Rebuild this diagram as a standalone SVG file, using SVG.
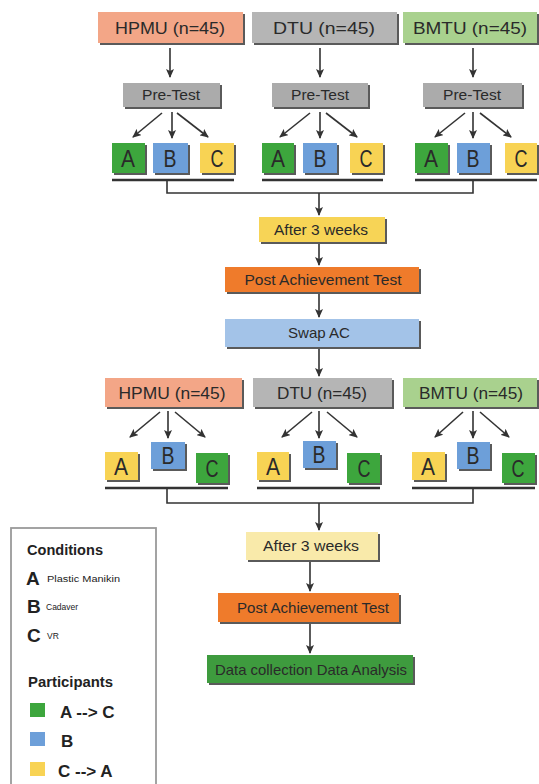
<svg xmlns="http://www.w3.org/2000/svg" width="539" height="784" viewBox="0 0 539 784">
<defs>
<marker id="ah" markerUnits="userSpaceOnUse" markerWidth="9" markerHeight="8" refX="8" refY="4" orient="auto">
<path d="M0,0 L9,4 L0,8 L2,4 z" fill="#333"/>
</marker>
</defs>
<style>
.sh{fill:#5a5a5a;}
.t{font-family:"Liberation Sans",Arial,sans-serif;fill:#2a2a2a;text-anchor:middle;}
.big{font-size:17px;}
.pt{font-size:14px;}
.abc{font-size:24px;}
.mid{font-size:15px;}
.ln{stroke:#333;stroke-width:1.6;fill:none;}
.ar{stroke:#333;stroke-width:1.6;fill:none;marker-end:url(#ah);}
.ul{stroke:#333;stroke-width:2.6;fill:none;}
.lg{font-family:"Liberation Sans",Arial,sans-serif;fill:#222;}
</style>
<rect width="539" height="784" fill="#ffffff"/>

<!-- top row sites -->
<g id="hpmu1"><rect class="sh" x="100" y="14" width="145" height="31"/><rect x="98" y="12" width="145" height="31" fill="#f3a687"/><text class="t big" x="170" y="34" textLength="110" lengthAdjust="spacingAndGlyphs">HPMU (n=45)</text></g>
<g id="dtu1"><rect class="sh" x="254" y="14" width="145" height="31"/><rect x="252" y="12" width="145" height="31" fill="#b5b5b5"/><text class="t big" x="324" y="34" textLength="102" lengthAdjust="spacingAndGlyphs">DTU (n=45)</text></g>
<g id="bmtu1"><rect class="sh" x="405" y="14" width="134" height="31"/><rect x="403" y="12" width="134" height="31" fill="#a9d18e"/><text class="t big" x="470" y="34" textLength="114" lengthAdjust="spacingAndGlyphs">BMTU (n=45)</text></g>

<!-- pre-tests -->
<g id="pre1"><rect class="sh" x="125" y="85" width="97" height="24"/><rect x="123" y="83" width="97" height="24" fill="#ababab"/><text class="t pt" x="171" y="100" textLength="58" lengthAdjust="spacingAndGlyphs">Pre-Test</text></g>
<g id="pre2"><rect class="sh" x="274" y="85" width="96" height="24"/><rect x="272" y="83" width="96" height="24" fill="#ababab"/><text class="t pt" x="320" y="100" textLength="58" lengthAdjust="spacingAndGlyphs">Pre-Test</text></g>
<g id="pre3"><rect class="sh" x="425" y="85" width="99" height="24"/><rect x="423" y="83" width="99" height="24" fill="#ababab"/><text class="t pt" x="472" y="100" textLength="58" lengthAdjust="spacingAndGlyphs">Pre-Test</text></g>

<!-- first row ABC -->
<g id="a1"><rect class="sh" x="114" y="145" width="33" height="30"/><rect x="112" y="143" width="33" height="30" fill="#3da63d"/><text class="t abc" x="128" y="167" textLength="14" lengthAdjust="spacingAndGlyphs">A</text></g>
<g id="b1"><rect class="sh" x="155" y="145" width="35" height="30"/><rect x="153" y="143" width="35" height="30" fill="#6d9fd9"/><text class="t abc" x="170" y="167" textLength="13" lengthAdjust="spacingAndGlyphs">B</text></g>
<g id="c1"><rect class="sh" x="202" y="145" width="34" height="30"/><rect x="200" y="143" width="34" height="30" fill="#f8d354"/><text class="t abc" x="217" y="167" textLength="13" lengthAdjust="spacingAndGlyphs">C</text></g>
<g id="a2"><rect class="sh" x="264" y="145" width="32" height="30"/><rect x="262" y="143" width="32" height="30" fill="#3da63d"/><text class="t abc" x="278" y="167" textLength="14" lengthAdjust="spacingAndGlyphs">A</text></g>
<g id="b2"><rect class="sh" x="305" y="145" width="34" height="30"/><rect x="303" y="143" width="34" height="30" fill="#6d9fd9"/><text class="t abc" x="320" y="167" textLength="13" lengthAdjust="spacingAndGlyphs">B</text></g>
<g id="c2"><rect class="sh" x="352" y="145" width="33" height="30"/><rect x="350" y="143" width="33" height="30" fill="#f8d354"/><text class="t abc" x="366" y="167" textLength="13" lengthAdjust="spacingAndGlyphs">C</text></g>
<g id="a3"><rect class="sh" x="417" y="145" width="33" height="30"/><rect x="415" y="143" width="33" height="30" fill="#3da63d"/><text class="t abc" x="431" y="167" textLength="14" lengthAdjust="spacingAndGlyphs">A</text></g>
<g id="b3"><rect class="sh" x="459" y="145" width="33" height="30"/><rect x="457" y="143" width="33" height="30" fill="#6d9fd9"/><text class="t abc" x="473" y="167" textLength="13" lengthAdjust="spacingAndGlyphs">B</text></g>
<g id="c3"><rect class="sh" x="507" y="145" width="32" height="30"/><rect x="505" y="143" width="32" height="30" fill="#f8d354"/><text class="t abc" x="521" y="167" textLength="13" lengthAdjust="spacingAndGlyphs">C</text></g>

<!-- middle -->
<g id="after1"><rect class="sh" x="261" y="219" width="126" height="25"/><rect x="259" y="217" width="126" height="25" fill="#f7d456"/><text class="t mid" x="321" y="235" textLength="94" lengthAdjust="spacingAndGlyphs">After 3 weeks</text></g>
<g id="post1"><rect class="sh" x="227" y="269" width="194" height="25"/><rect x="225" y="267" width="194" height="25" fill="#ef7b2b"/><text class="t mid" x="323" y="285" textLength="157" lengthAdjust="spacingAndGlyphs">Post Achievement Test</text></g>
<g id="swap"><rect class="sh" x="227" y="321" width="194" height="28"/><rect x="225" y="319" width="194" height="28" fill="#a3c3e8"/><text class="t mid" x="319" y="338" textLength="62" lengthAdjust="spacingAndGlyphs">Swap AC</text></g>

<!-- second row sites -->
<g id="hpmu2"><rect class="sh" x="107" y="380" width="137" height="29"/><rect x="105" y="378" width="137" height="29" fill="#f3a687"/><text class="t big" x="172" y="399" textLength="107" lengthAdjust="spacingAndGlyphs">HPMU (n=45)</text></g>
<g id="dtu2"><rect class="sh" x="255" y="380" width="139" height="29"/><rect x="253" y="378" width="139" height="29" fill="#b5b5b5"/><text class="t big" x="322" y="399" textLength="90" lengthAdjust="spacingAndGlyphs">DTU (n=45)</text></g>
<g id="bmtu2"><rect class="sh" x="405" y="380" width="134" height="29"/><rect x="403" y="378" width="134" height="29" fill="#a9d18e"/><text class="t big" x="471" y="399" textLength="104" lengthAdjust="spacingAndGlyphs">BMTU (n=45)</text></g>

<!-- second row ABC -->
<g id="a4"><rect class="sh" x="107" y="454" width="33" height="28"/><rect x="105" y="452" width="33" height="28" fill="#f8d354"/><text class="t abc" x="121" y="475" textLength="14" lengthAdjust="spacingAndGlyphs">A</text></g>
<g id="b4"><rect class="sh" x="153" y="444" width="34" height="27"/><rect x="151" y="442" width="34" height="27" fill="#6d9fd9"/><text class="t abc" x="168" y="464" textLength="13" lengthAdjust="spacingAndGlyphs">B</text></g>
<g id="c4"><rect class="sh" x="198" y="455" width="32" height="30"/><rect x="196" y="453" width="32" height="30" fill="#3da63d"/><text class="t abc" x="212" y="477" textLength="13" lengthAdjust="spacingAndGlyphs">C</text></g>
<g id="a5"><rect class="sh" x="259" y="454" width="32" height="28"/><rect x="257" y="452" width="32" height="28" fill="#f8d354"/><text class="t abc" x="273" y="475" textLength="14" lengthAdjust="spacingAndGlyphs">A</text></g>
<g id="b5"><rect class="sh" x="305" y="443" width="33" height="27"/><rect x="303" y="441" width="33" height="27" fill="#6d9fd9"/><text class="t abc" x="319" y="463" textLength="13" lengthAdjust="spacingAndGlyphs">B</text></g>
<g id="c5"><rect class="sh" x="349" y="455" width="33" height="30"/><rect x="347" y="453" width="33" height="30" fill="#3da63d"/><text class="t abc" x="364" y="477" textLength="13" lengthAdjust="spacingAndGlyphs">C</text></g>
<g id="a6"><rect class="sh" x="414" y="454" width="33" height="28"/><rect x="412" y="452" width="33" height="28" fill="#f8d354"/><text class="t abc" x="428" y="475" textLength="14" lengthAdjust="spacingAndGlyphs">A</text></g>
<g id="b6"><rect class="sh" x="459" y="444" width="33" height="27"/><rect x="457" y="442" width="33" height="27" fill="#6d9fd9"/><text class="t abc" x="473" y="464" textLength="13" lengthAdjust="spacingAndGlyphs">B</text></g>
<g id="c6"><rect class="sh" x="504" y="455" width="33" height="30"/><rect x="502" y="453" width="33" height="30" fill="#3da63d"/><text class="t abc" x="518" y="477" textLength="13" lengthAdjust="spacingAndGlyphs">C</text></g>

<!-- lower -->
<g id="after2"><rect class="sh" x="248" y="534" width="132" height="28"/><rect x="246" y="532" width="132" height="28" fill="#f9eaaa"/><text class="t mid" x="311" y="551" textLength="96" lengthAdjust="spacingAndGlyphs">After 3 weeks</text></g>
<g id="post2"><rect class="sh" x="220" y="595" width="181" height="29"/><rect x="218" y="593" width="181" height="29" fill="#ef7b2b"/><text class="t mid" x="313" y="613" textLength="152" lengthAdjust="spacingAndGlyphs">Post Achievement Test</text></g>
<g id="data"><rect class="sh" x="209" y="657" width="206" height="28"/><rect x="207" y="655" width="206" height="28" fill="#3e9b3e"/><text class="t mid" x="311" y="675" textLength="192" lengthAdjust="spacingAndGlyphs">Data collection Data Analysis</text></g>

<!-- connectors -->
<g id="connectors">
<line class="ar" x1="170" y1="48" x2="170" y2="77"/>
<line class="ar" x1="320" y1="48" x2="320" y2="77"/>
<line class="ar" x1="473" y1="48" x2="473" y2="77"/>

<line class="ar" x1="162" y1="113" x2="133" y2="137"/>
<line class="ar" x1="172" y1="112" x2="172" y2="138"/>
<line class="ar" x1="177" y1="113" x2="208" y2="137"/>
<line class="ar" x1="310" y1="113" x2="280" y2="137"/>
<line class="ar" x1="320" y1="112" x2="320" y2="138"/>
<line class="ar" x1="326" y1="113" x2="357" y2="137"/>
<line class="ar" x1="465" y1="113" x2="435" y2="137"/>
<line class="ar" x1="473" y1="112" x2="473" y2="138"/>
<line class="ar" x1="480" y1="113" x2="511" y2="137"/>

<line class="ul" x1="112" y1="180" x2="234" y2="180"/>
<line class="ul" x1="262" y1="180" x2="383" y2="180"/>
<line class="ul" x1="415" y1="180" x2="537" y2="180"/>
<polyline class="ln" points="167,181 167,193 473,193 473,181"/>
<line class="ar" x1="319" y1="193" x2="319" y2="215"/>
<line class="ar" x1="319" y1="244" x2="319" y2="265"/>
<line class="ar" x1="319" y1="294" x2="319" y2="317"/>
<line class="ar" x1="319" y1="349" x2="319" y2="376"/>

<line class="ar" x1="160" y1="412" x2="130" y2="437"/>
<line class="ar" x1="168" y1="411" x2="168" y2="438"/>
<line class="ar" x1="175" y1="412" x2="205" y2="437"/>
<line class="ar" x1="312" y1="412" x2="282" y2="437"/>
<line class="ar" x1="319" y1="411" x2="319" y2="438"/>
<line class="ar" x1="327" y1="412" x2="357" y2="437"/>
<line class="ar" x1="463" y1="412" x2="435" y2="437"/>
<line class="ar" x1="473" y1="411" x2="473" y2="438"/>
<line class="ar" x1="480" y1="412" x2="509" y2="437"/>

<line class="ul" x1="105" y1="488" x2="228" y2="488"/>
<line class="ul" x1="257" y1="488" x2="380" y2="488"/>
<line class="ul" x1="412" y1="488" x2="535" y2="488"/>
<polyline class="ln" points="167,489 167,503 473,503 473,489"/>
<line class="ar" x1="319" y1="503" x2="319" y2="530"/>
<line class="ar" x1="310" y1="562" x2="310" y2="591"/>
<line class="ar" x1="310" y1="624" x2="310" y2="653"/>
</g>

<!-- legend -->
<g id="legend">
<rect x="11" y="528" width="145" height="262" fill="#ffffff" stroke="#9a9a9a" stroke-width="1.8"/>
<text class="lg" x="27" y="555" font-size="14" font-weight="bold" textLength="76" lengthAdjust="spacingAndGlyphs">Conditions</text>
<text class="lg" x="26" y="585" font-size="19" font-weight="bold">A</text>
<text class="lg" x="47" y="582" font-size="8.5" fill="#444" textLength="73" lengthAdjust="spacingAndGlyphs">Plastic Manikin</text>
<text class="lg" x="27" y="613" font-size="19" font-weight="bold">B</text>
<text class="lg" x="46" y="610" font-size="8.5" fill="#444">Cadaver</text>
<text class="lg" x="27" y="642" font-size="19" font-weight="bold">C</text>
<text class="lg" x="47" y="639" font-size="8.5" fill="#444">VR</text>
<text class="lg" x="28" y="687" font-size="14" font-weight="bold" textLength="85" lengthAdjust="spacingAndGlyphs">Participants</text>
<rect x="30" y="703" width="15" height="14" fill="#3da63d"/>
<text class="lg" x="60" y="718" font-size="17" font-weight="bold">A --&gt; C</text>
<rect x="30" y="732" width="15" height="14" fill="#6d9fd9"/>
<text class="lg" x="61" y="747" font-size="17" font-weight="bold">B</text>
<rect x="30" y="762" width="15" height="14" fill="#f8d354"/>
<text class="lg" x="58" y="777" font-size="17" font-weight="bold">C --&gt; A</text>
</g>
</svg>
